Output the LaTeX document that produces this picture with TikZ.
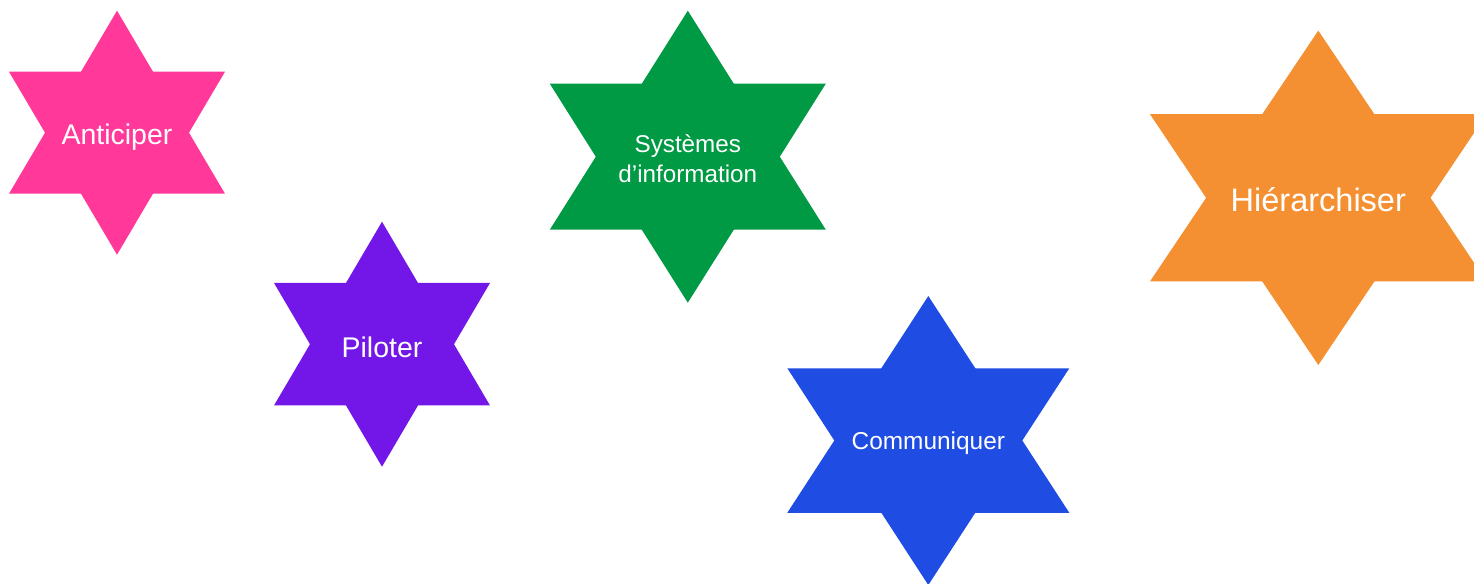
\documentclass[tikz,border=0pt]{standalone}
\usepackage{fontspec}
\setmainfont{Liberation Sans}
\definecolor{AnticipClr}{RGB}{255,56,153}
\definecolor{PilotClr}{RGB}{115,22,232}
\definecolor{SystClr}{RGB}{0,154,68}
\definecolor{CommClr}{RGB}{31,76,226}
\definecolor{HierClr}{RGB}{245,144,50}

\begin{document}
\begin{tikzpicture}[x=0.02cm,y=-0.02cm]
\tikzset{startext/.style={text=white,align=center,inner sep=0pt}}
\useasboundingbox (0,0) rectangle (1474,583);

% six-pointed stars: centre x/y, half width, half height, colour
\foreach \cx/\cy/\w/\h/\clr in {117/132.7/108/122/AnticipClr,
  382/344.2/108/122.5/PilotClr,
  687.8/156.7/138/146/SystClr,
  928.3/440.5/141/144.5/CommClr,
  1318.3/197.8/168.3/167.2/HierClr}{
  \fill[\clr] ({\cx},{\cy-\h}) -- ({\cx+\w},{\cy+\h/2}) -- ({\cx-\w},{\cy+\h/2}) -- cycle;
  \fill[\clr] ({\cx},{\cy+\h}) -- ({\cx+\w},{\cy-\h/2}) -- ({\cx-\w},{\cy-\h/2}) -- cycle;
}

\node[startext,font=\fontsize{16.2}{19}\selectfont] (anticiper) at (117,137) {Anticiper};
\node[startext,font=\fontsize{16.2}{19}\selectfont] (piloter) at (382,347) {Piloter};
\node[startext,font=\fontsize{13.8}{17}\selectfont] (systemes) at (687.8,159) {Systèmes\\d’information};
\node[startext,font=\fontsize{13.9}{17}\selectfont] (communiquer) at (928.3,443) {Communiquer};
\node[startext,font=\fontsize{18.5}{22}\selectfont] (hierarchiser) at (1318.3,200) {Hiérarchiser};

\end{tikzpicture}
\end{document}
